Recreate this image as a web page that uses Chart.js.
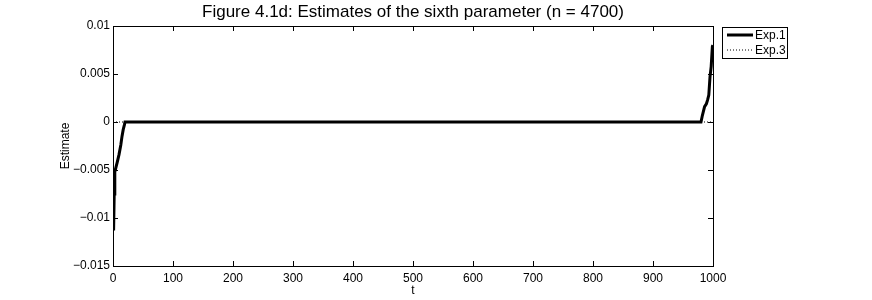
<!DOCTYPE html>
<html>
<head>
<meta charset="utf-8">
<script src="https://cdn.jsdelivr.net/npm/chart.js@4"></script>
<style>
  html, body { margin: 0; padding: 0; background: #fff; }
  #wrap { width: 872px; height: 300px; }
</style>
</head>
<body>
<div id="wrap"><canvas id="fig" width="872" height="300"></canvas></div>
<script>
// данные
const figTitle = 'Figure 4.1d: Estimates of the sixth parameter (n = 4700)';
const xLabel = 't';
const yLabel = 'Estimate';
const seriesNames = ['Exp.1', 'Exp.3'];

// Exp.1 — толстая сплошная линия
const tExp1 = [1, 2, 3, 5, 7, 10, 13, 15, 17, 19, 20, 500, 980, 982, 984, 986, 989, 991, 993, 995, 997, 999, 1000];
const vExp1 = [-0.0113, -0.0075, -0.0052, -0.0047, -0.0042, -0.0034, -0.0024, -0.0015, -0.0008, -0.0003, 0, 0, 0, 0.0006, 0.0011, 0.0016, 0.0019, 0.0023, 0.0028, 0.0047, 0.0058, 0.0079, 0.0080];

// Exp.3 — пунктир, всё время около нуля
const tExp3 = [0, 250, 500, 750, 1000];
const vExp3 = [0, 0, 0, 0, 0];

const xTicksStep = 100;
const yTicksStep = 0.005;

const FONT = '"Liberation Sans", Arial, Helvetica, sans-serif';

function toPoints(ts, vs) {
  return ts.map((t, i) => ({ x: t, y: vs[i] }));
}

function fmtY(v) {
  const s = Number(v.toFixed(4)).toString();
  return s.replace('-', '\u2212');
}

// рамка, засечки внутрь, заголовок, подписи осей и легенда
const matlabLook = {
  id: 'matlabLook',
  afterDraw(chart) {
    const ctx = chart.ctx;
    const a = chart.chartArea;
    const sx = chart.scales.x;
    const sy = chart.scales.y;
    ctx.save();
    ctx.strokeStyle = '#000';
    ctx.lineWidth = 1;
    ctx.strokeRect(a.left + 0.5, a.top + 0.5, a.right - a.left, a.bottom - a.top);

    const tl = 5;
    ctx.beginPath();
    sx.ticks.forEach(tk => {
      const px = Math.round(sx.getPixelForValue(tk.value)) + 0.5;
      ctx.moveTo(px, a.bottom); ctx.lineTo(px, a.bottom - tl);
      ctx.moveTo(px, a.top); ctx.lineTo(px, a.top + tl);
    });
    sy.ticks.forEach(tk => {
      const py = Math.round(sy.getPixelForValue(tk.value)) + 0.5;
      ctx.moveTo(a.left, py); ctx.lineTo(a.left + tl, py);
      ctx.moveTo(a.right, py); ctx.lineTo(a.right - tl, py);
    });
    ctx.stroke();

    // заголовок
    const cx = (a.left + a.right) / 2;
    ctx.fillStyle = '#000';
    ctx.font = '17px ' + FONT;
    ctx.textAlign = 'center';
    ctx.textBaseline = 'alphabetic';
    ctx.fillText(figTitle, cx, 17);

    // подписи осей
    ctx.font = '12px ' + FONT;
    ctx.fillText(xLabel, cx, 294);
    ctx.save();
    ctx.translate(69, (a.top + a.bottom) / 2);
    ctx.rotate(-Math.PI / 2);
    ctx.fillText(yLabel, 0, 0);
    ctx.restore();

    // легенда
    const bx = 722, by = 27, bw = 65, bh = 31;
    ctx.fillStyle = '#fff';
    ctx.fillRect(bx, by, bw, bh);
    ctx.strokeStyle = '#000';
    ctx.lineWidth = 1;
    ctx.strokeRect(bx + 0.5, by + 0.5, bw, bh);
    chart.data.datasets.forEach((ds, i) => {
      const ly = by + 8 + i * 15;
      ctx.save();
      ctx.strokeStyle = ds.borderColor;
      ctx.lineWidth = ds.borderWidth;
      ctx.setLineDash(ds.borderDash || []);
      ctx.beginPath();
      ctx.moveTo(bx + 5, ly);
      ctx.lineTo(bx + 31, ly);
      ctx.stroke();
      ctx.restore();
      ctx.fillStyle = '#000';
      ctx.font = '12px ' + FONT;
      ctx.textAlign = 'left';
      ctx.textBaseline = 'middle';
      ctx.fillText(ds.label, bx + 33, ly + 0.5);
    });
    ctx.restore();
  }
};

new Chart(document.getElementById('fig').getContext('2d'), {
  type: 'line',
  data: {
    datasets: [
      {
        label: seriesNames[0],
        data: toPoints(tExp1, vExp1),
        borderColor: '#000',
        borderWidth: 3,
        pointRadius: 0,
        tension: 0,
        fill: false
      },
      {
        label: seriesNames[1],
        data: toPoints(tExp3, vExp3),
        borderColor: '#000',
        borderWidth: 1,
        borderDash: [1, 2],
        pointRadius: 0,
        tension: 0,
        fill: false
      }
    ]
  },
  options: {
    responsive: false,
    animation: false,
    layout: { padding: { top: 26, right: 159, left: 0, bottom: 0 } },
    plugins: {
      legend: { display: false },
      title: { display: false },
      tooltip: { enabled: false }
    },
    scales: {
      x: {
        type: 'linear',
        min: 0,
        max: 1000,
        grid: { display: false, drawTicks: false },
        border: { display: false },
        ticks: {
          stepSize: xTicksStep,
          color: '#000',
          font: { family: FONT, size: 12 },
          padding: 5,
          maxRotation: 0,
          callback: v => String(v)
        },
        afterFit(scale) { scale.height = 34; }
      },
      y: {
        type: 'linear',
        min: -0.015,
        max: 0.01,
        grid: { display: false, drawTicks: false },
        border: { display: false },
        ticks: {
          stepSize: yTicksStep,
          color: '#000',
          font: { family: FONT, size: 12 },
          padding: 3,
          callback: v => fmtY(v)
        },
        afterFit(scale) { scale.width = 113; }
      }
    }
  },
  plugins: [matlabLook]
});
</script>
</body>
</html>
